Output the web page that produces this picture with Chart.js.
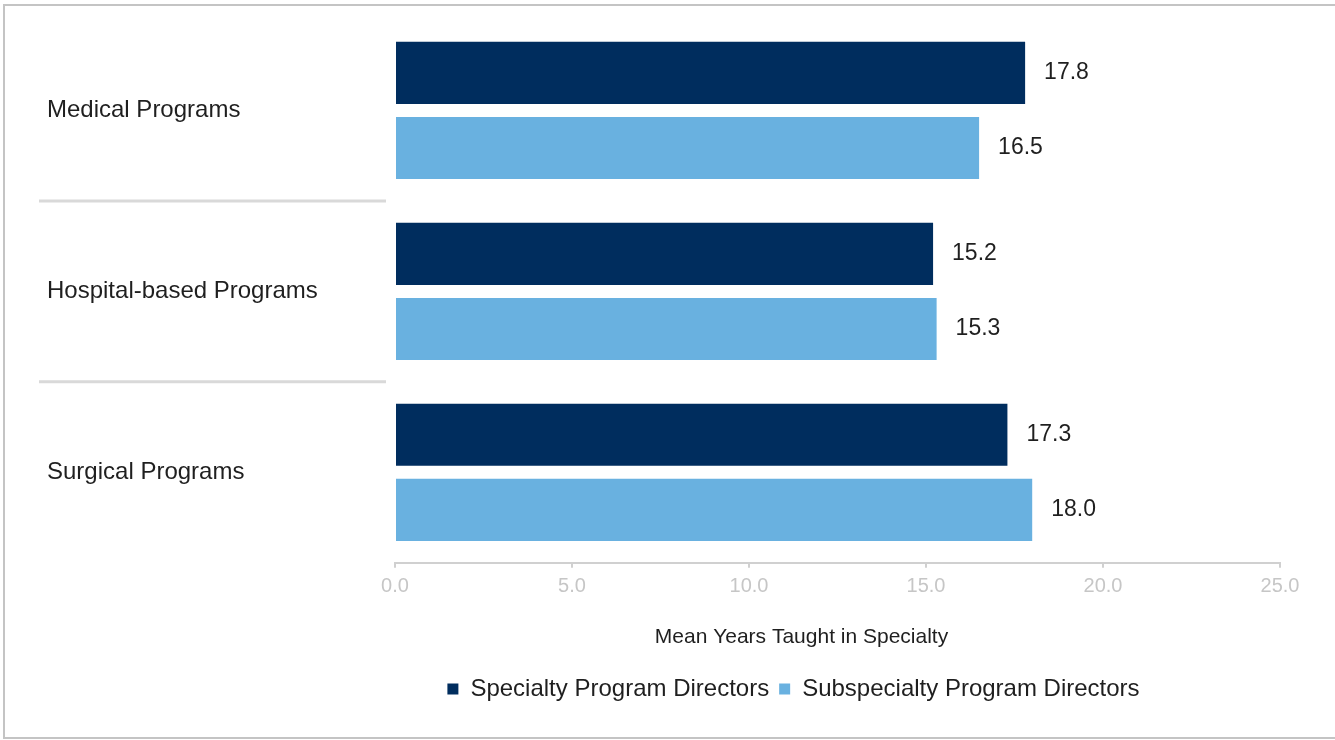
<!DOCTYPE html>
<html>
<head>
<meta charset="utf-8">
<script src="https://cdn.jsdelivr.net/npm/chart.js@4.4.1/dist/chart.umd.min.js"></script>
<style>
  html, body { margin: 0; padding: 0; background: #fff; overflow: hidden; width: 1335px; height: 740px; }
  #marco {
    position: absolute; left: 3px; top: 4px; width: 1330px; height: 731px;
    border-top: 2px solid #c4c4c4; border-left: 2px solid #c4c4c4; border-bottom: 2px solid #c4c4c4;
    border-right: none;
  }
  #caja { position: absolute; left: 0; top: 0; width: 1335px; height: 740px; }
</style>
</head>
<body>
<div id="marco"></div>
<div id="caja"><canvas id="grafico"></canvas></div>
<script>
// Datos del gráfico
const categorias = ['Medical Programs', 'Hospital-based Programs', 'Surgical Programs'];
const directoresEspecialidad = [17.8, 15.2, 17.3];
const directoresSubespecialidad = [16.5, 15.3, 18.0];
const ejeMin = 0;
const ejeMax = 25;
const ejePaso = 5;

const fuente = 'Liberation Sans, Arial, sans-serif';

// Etiquetas de valor al final de cada barra
const etiquetasValor = {
    id: 'etiquetasValor',
    afterDatasetsDraw(chart) {
        const ctx = chart.ctx;
        ctx.save();
        ctx.font = '23px ' + fuente;
        ctx.fillStyle = '#1f1f1f';
        ctx.textBaseline = 'middle';
        ctx.textAlign = 'left';
        chart.data.datasets.forEach((ds, i) => {
            chart.getDatasetMeta(i).data.forEach((barra, j) => {
                ctx.fillText(ds.data[j].toFixed(1), barra.x + 19, barra.y);
            });
        });
        ctx.restore();
    }
};

// Separadores entre categorías en la zona de etiquetas
const separadores = {
    id: 'separadores',
    afterDraw(chart) {
        const y = chart.scales.y;
        const ctx = chart.ctx;
        ctx.save();
        ctx.strokeStyle = '#d9d9d9';
        ctx.lineWidth = 3;
        for (let i = 1; i < categorias.length; i++) {
            const py = (y.getPixelForValue(i - 1) + y.getPixelForValue(i)) / 2;
            ctx.beginPath();
            ctx.moveTo(39, py);
            ctx.lineTo(chart.chartArea.left - 9, py);
            ctx.stroke();
        }
        ctx.restore();
    }
};

// Desplaza título inferior y leyenda hacia la izquierda
const desplazar = {
    id: 'desplazar',
    afterLayout(chart) {
        if (chart.titleBlock) { chart.titleBlock.left -= 36; chart.titleBlock.right -= 36; }
        if (chart.legend) { chart.legend.left -= 44; chart.legend.right -= 44; }
    }
};

const config = {
    type: 'bar',
    data: {
        labels: categorias,
        datasets: [
            {
                label: 'Specialty Program Directors',
                data: directoresEspecialidad,
                backgroundColor: '#002d5e',
                categoryPercentage: 0.83,
                barPercentage: 0.827
            },
            {
                label: 'Subspecialty Program Directors',
                data: directoresSubespecialidad,
                backgroundColor: '#69b1e0',
                categoryPercentage: 0.83,
                barPercentage: 0.827
            }
        ]
    },
    options: {
        indexAxis: 'y',
        responsive: false,
        animation: false,
        devicePixelRatio: 1,
        layout: { padding: { left: 47, right: 55, top: 20, bottom: 29 } },
        scales: {
            x: {
                min: ejeMin,
                max: ejeMax,
                ticks: {
                    stepSize: ejePaso,
                    callback: v => v.toFixed(1),
                    color: '#c6c6c6',
                    font: { family: fuente, size: 20 },
                    padding: 7
                },
                grid: { drawOnChartArea: false, drawTicks: true, tickLength: 5, color: '#d0d0d0', lineWidth: 2 },
                border: { color: '#d0d0d0', width: 2 },
                afterFit(scale) { scale.height = 36; }
            },
            y: {
                ticks: {
                    crossAlign: 'far',
                    color: '#1f1f1f',
                    font: { family: fuente, size: 24 },
                    padding: 0
                },
                grid: { display: false },
                border: { display: false },
                afterFit(scale) { scale.width = 348; }
            }
        },
        plugins: {
            title: {
                display: true,
                position: 'bottom',
                fullSize: false,
                weight: 500,
                text: 'Mean Years Taught in Specialty',
                color: '#1f1f1f',
                font: { family: fuente, size: 21, weight: 'normal' },
                padding: { top: 26, bottom: 17 }
            },
            legend: {
                position: 'bottom',
                fullSize: false,
                labels: {
                    boxWidth: 11,
                    boxHeight: 11,
                    color: '#1f1f1f',
                    font: { family: fuente, size: 24 },
                    padding: 10
                }
            },
            tooltip: { enabled: false }
        }
    },
    plugins: [etiquetasValor, separadores, desplazar]
};

const lienzo = document.getElementById('grafico');
lienzo.width = 1335;
lienzo.height = 740;
new Chart(lienzo, config);
</script>
</body>
</html>
